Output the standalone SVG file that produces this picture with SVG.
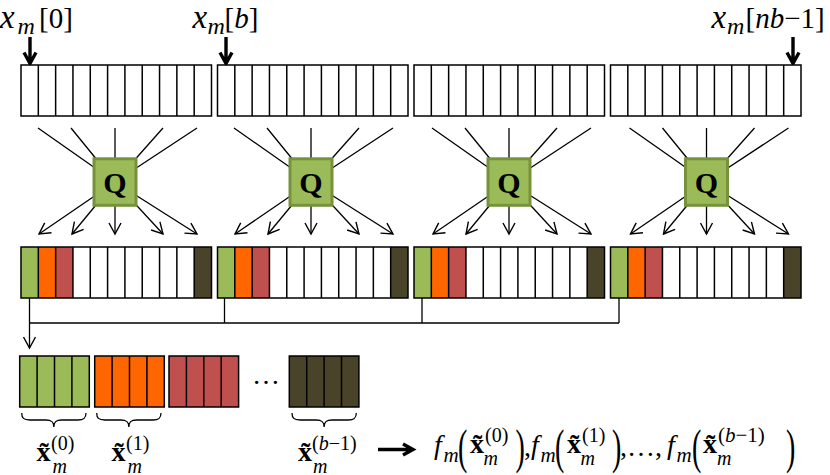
<svg xmlns="http://www.w3.org/2000/svg" width="830" height="475" viewBox="0 0 830 475">
<style>
.t{font-family:"Liberation Serif","Times New Roman",serif;fill:#000}
.i{font-style:italic}
.b{font-weight:bold}
.ln{stroke:#000;stroke-width:1.3;fill:none}
.cell{stroke:#000;stroke-width:1.5;fill:none}
.qbox{fill:#9BBB59;stroke:#76923C;stroke-width:3}
.thick{stroke:#000;stroke-width:3.4;fill:none}
</style>
<defs>
<marker id="ah" markerUnits="userSpaceOnUse" markerWidth="14" markerHeight="14" viewBox="0 0 14 14" refX="12.5" refY="7" orient="auto">
<path d="M1.5,1 L12.5,7 L1.5,13" fill="none" stroke="#000" stroke-width="1.4"/>
</marker>
<path id="div11" class="cell" d="M17.32,0V51M34.64,0V51M51.95,0V51M69.27,0V51M86.59,0V51M103.91,0V51M121.23,0V51M138.55,0V51M155.86,0V51M173.18,0V51"/>
<g id="top">
<rect width="190.5" height="51" fill="#fff"/>
<use href="#div11"/>
<rect width="190.5" height="51" class="cell" stroke-width="1.6"/>
</g>
<g id="mid">
<rect width="190.5" height="51" fill="#fff"/>
<rect x="0" width="17.32" height="51" fill="#9BBB59"/>
<rect x="17.32" width="17.32" height="51" fill="#FF6600"/>
<rect x="34.64" width="17.32" height="51" fill="#C0504D"/>
<rect x="173.18" width="17.32" height="51" fill="#494429"/>
<use href="#div11"/>
<rect width="190.5" height="51" class="cell" stroke-width="1.8"/>
</g>
<path id="div4" class="cell" d="M17.4,0V51M34.8,0V51M52.2,0V51"/>
<path id="brace" class="ln" d="M0,0 C0,5 2,7 8,7 L24.15,7 C30.15,7 32.15,9 32.15,14 C32.15,9 34.15,7 40.15,7 L56.3,7 C62.3,7 64.3,5 64.3,0"/>
</defs>

<g id="connectors">
<path class="thick" d="M30,37V62M24,52.5L30,63.5L36,52.5"/>
<path class="thick" d="M226,37V62M220,52.5L226,63.5L232,52.5"/>
<path class="thick" d="M793,37V62M787,52.5L793,63.5L799,52.5"/>
<g id="fan1" class="ln">
<path d="M38,128L115,182M71,128L115,182M115,128L115,182M163,128L115,182M197,128L115,182"/>
<path marker-end="url(#ah)" d="M115,182L39,234"/>
<path marker-end="url(#ah)" d="M115,182L72,234"/>
<path marker-end="url(#ah)" d="M115,182L115,234"/>
<path marker-end="url(#ah)" d="M115,182L163,234"/>
<path marker-end="url(#ah)" d="M115,182L197,234"/>
</g>
<use href="#fan1" transform="translate(196,0)"/>
<use href="#fan1" transform="translate(394,0)"/>
<use href="#fan1" transform="translate(591.5,0)"/>
<path class="ln" stroke="#333" d="M29.5,323H619M224.5,298V323M422,298V323M619,298V323"/>
<path class="ln" marker-end="url(#ah)" d="M29.5,298V348"/>
<path class="thick" d="M378,449.5H412M403,444L413,449.5L403,455"/>
</g>

<g id="labels-top">
<text class="t" font-size="29"><tspan class="i" x="0" y="27.5" font-size="33">x</tspan><tspan class="i" x="17.5" y="33.5" font-size="24">m</tspan><tspan x="39" y="27.5">[0]</tspan></text>
<text class="t" font-size="29"><tspan class="i" x="192.5" y="27.5" font-size="33">x</tspan><tspan class="i" x="207.5" y="33.5" font-size="24">m</tspan><tspan x="224.5" y="27.5">[<tspan class="i">b</tspan>]</tspan></text>
<text class="t" font-size="29"><tspan class="i" x="711.5" y="27.5" font-size="33">x</tspan><tspan class="i" x="727" y="33.5" font-size="24">m</tspan><tspan x="745.5" y="27.5">[<tspan class="i">nb</tspan>−1]</tspan></text>
</g>

<g id="row-top">
<use href="#top" x="21" y="65"/>
<use href="#top" x="217.5" y="65"/>
<use href="#top" x="414" y="65"/>
<use href="#top" x="610.5" y="65"/>
</g>

<g id="Q1"><rect class="qbox" x="94" y="158.8" width="42" height="46.5"/><text class="t b" x="115" y="193" font-size="30" text-anchor="middle">Q</text></g>
<g id="Q2"><rect class="qbox" x="290" y="158.8" width="42" height="46.5"/><text class="t b" x="311" y="193" font-size="30" text-anchor="middle">Q</text></g>
<g id="Q3"><rect class="qbox" x="488" y="158.8" width="42" height="46.5"/><text class="t b" x="509" y="193" font-size="30" text-anchor="middle">Q</text></g>
<g id="Q4"><rect class="qbox" x="685.5" y="158.8" width="42" height="46.5"/><text class="t b" x="706.5" y="193" font-size="30" text-anchor="middle">Q</text></g>

<g id="row-mid">
<use href="#mid" x="21" y="247"/>
<use href="#mid" x="217.5" y="247"/>
<use href="#mid" x="414" y="247"/>
<use href="#mid" x="610.5" y="247"/>
</g>

<g id="g-green"><rect x="19.7" y="356" width="69.6" height="51" fill="#9BBB59"/><use href="#div4" x="19.7" y="356"/><rect x="19.7" y="356" width="69.6" height="51" class="cell" stroke-width="1.8"/></g>
<g id="g-orange"><rect x="94.7" y="356" width="69.6" height="51" fill="#FF6600"/><use href="#div4" x="94.7" y="356"/><rect x="94.7" y="356" width="69.6" height="51" class="cell" stroke-width="1.8"/></g>
<g id="g-red"><rect x="169" y="356" width="69.6" height="51" fill="#C0504D"/><use href="#div4" x="169" y="356"/><rect x="169" y="356" width="69.6" height="51" class="cell" stroke-width="1.8"/></g>
<text class="t" x="266" y="384" font-size="28" text-anchor="middle">…</text>
<g id="g-dark"><rect x="289.3" y="356" width="69.6" height="51" fill="#494429"/><use href="#div4" x="289.3" y="356"/><rect x="289.3" y="356" width="69.6" height="51" class="cell" stroke-width="1.8"/></g>

<g id="braces">
<use href="#brace" x="21.7" y="413"/>
<use href="#brace" x="96.7" y="413"/>
<use href="#brace" x="292" y="413"/>
</g>

<g id="labels-bottom">
<text class="t" font-size="28"><tspan class="b" x="36.5" y="461">x̃</tspan><tspan x="51" y="449.5" font-size="20">(0)</tspan></text>
<text class="t i" x="52.5" y="472.5" font-size="20">m</text>
<text class="t" font-size="28"><tspan class="b" x="111.5" y="461">x̃</tspan><tspan x="126" y="449.5" font-size="20">(1)</tspan></text>
<text class="t i" x="127.5" y="472.5" font-size="20">m</text>
<text class="t" font-size="28"><tspan class="b" x="298" y="461">x̃</tspan><tspan x="312" y="449.5" font-size="20">(<tspan class="i">b</tspan>−1)</tspan></text>
<text class="t i" x="313" y="472.5" font-size="20">m</text>
</g>

<g id="formula">
<text class="t i" x="434" y="454" font-size="28">f</text>
<text class="t i" x="443.5" y="462" font-size="21">m</text>
<text class="t" transform="translate(458,463.4) scale(1,1.72)" font-size="28">(</text>
<text class="t" font-size="28"><tspan class="b" x="470" y="453">x̃</tspan><tspan x="485" y="441.5" font-size="20">(0)</tspan></text>
<text class="t i" x="483.5" y="464.5" font-size="20">m</text>
<text class="t" transform="translate(515.5,463.4) scale(1,1.72)" font-size="28">)</text>
<text class="t" x="524" y="456" font-size="28">,</text>
<text class="t i" x="531" y="454" font-size="28">f</text>
<text class="t i" x="540.5" y="462" font-size="21">m</text>
<text class="t" transform="translate(555,463.4) scale(1,1.72)" font-size="28">(</text>
<text class="t" font-size="28"><tspan class="b" x="567" y="453">x̃</tspan><tspan x="582" y="441.5" font-size="20">(1)</tspan></text>
<text class="t i" x="580.5" y="464.5" font-size="20">m</text>
<text class="t" transform="translate(612,463.4) scale(1,1.72)" font-size="28">)</text>
<text class="t" x="620" y="456" font-size="28">,…,</text>
<text class="t i" x="667" y="454" font-size="28">f</text>
<text class="t i" x="676.5" y="462" font-size="21">m</text>
<text class="t" transform="translate(692,463.4) scale(1,1.72)" font-size="28">(</text>
<text class="t" font-size="28"><tspan class="b" x="703" y="453">x̃</tspan><tspan x="718" y="441.5" font-size="21">(<tspan class="i">b</tspan>−1)</tspan></text>
<text class="t i" x="717" y="464.5" font-size="20">m</text>
<text class="t" transform="translate(786,463.4) scale(1,1.72)" font-size="28">)</text>
</g>
</svg>
